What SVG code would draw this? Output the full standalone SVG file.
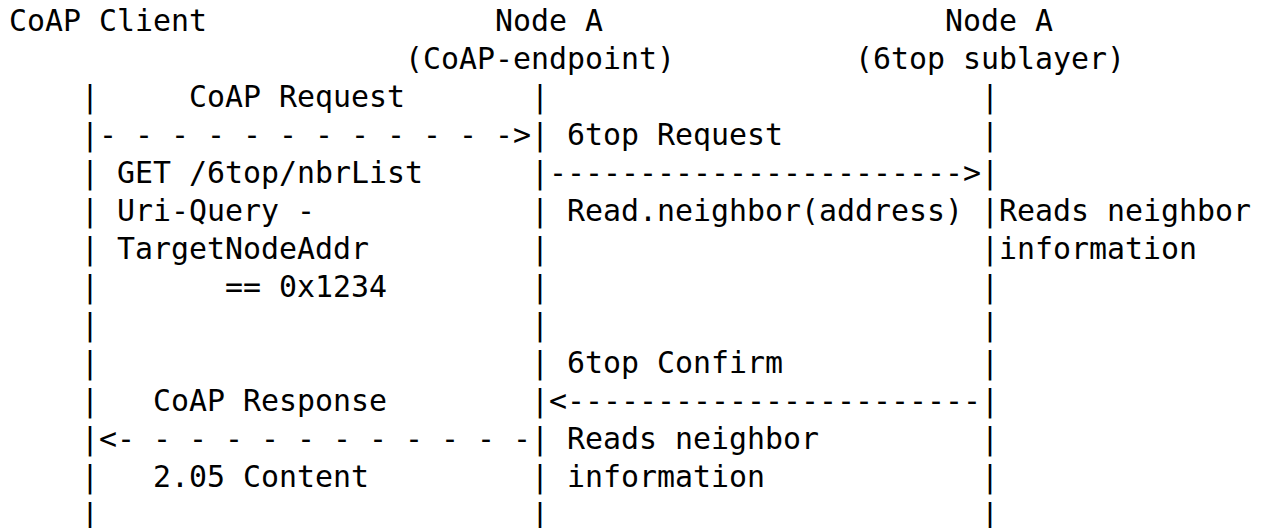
<svg xmlns="http://www.w3.org/2000/svg" width="1265" height="528" viewBox="0 0 1265 528">
<style>
text{font-family:"DejaVu Sans Mono","Liberation Mono",monospace;font-size:29.9px;fill:#000;white-space:pre}
</style>
<rect width="1265" height="528" fill="#fff"/>
<g id="node-coap-client">
<text x="9" y="31">CoAP Client</text>
<text x="81 81 81 81 81 81 81 81 81 81 81 81" y="107 145 183 221 259 297 335 373 411 449 487 525">||||||||||||</text>
</g>
<g id="node-a-coap-endpoint">
<text x="495" y="31">Node A</text>
<text x="405" y="69">(CoAP-endpoint)</text>
<text x="531 531 531 531 531 531 531 531 531 531 531 531" y="107 145 183 221 259 297 335 373 411 449 487 525">||||||||||||</text>
</g>
<g id="node-a-6top-sublayer">
<text x="945" y="31">Node A</text>
<text x="855" y="69">(6top sublayer)</text>
<text x="981 981 981 981 981 981 981 981 981 981 981 981" y="107 145 183 221 259 297 335 373 411 449 487 525">||||||||||||</text>
</g>
<g id="connectors">
<text x="99" y="145">- - - - - - - - - - - -&gt;</text>
<text x="549" y="183">-----------------------&gt;</text>
<text x="549" y="411">&lt;-----------------------</text>
<text x="99" y="449">&lt;- - - - - - - - - - - -</text>
</g>
<g id="labels">
<text x="189" y="107">CoAP Request</text>
<text x="567" y="145">6top Request</text>
<text x="117" y="183">GET /6top/nbrList</text>
<text x="117" y="221">Uri-Query -</text>
<text x="567" y="221">Read.neighbor(address)</text>
<text x="999" y="221">Reads neighbor</text>
<text x="117" y="259">TargetNodeAddr</text>
<text x="999" y="259">information</text>
<text x="225" y="297">== 0x1234</text>
<text x="567" y="373">6top Confirm</text>
<text x="153" y="411">CoAP Response</text>
<text x="567" y="449">Reads neighbor</text>
<text x="153" y="487">2.05 Content</text>
<text x="567" y="487">information</text>
</g>
</svg>
